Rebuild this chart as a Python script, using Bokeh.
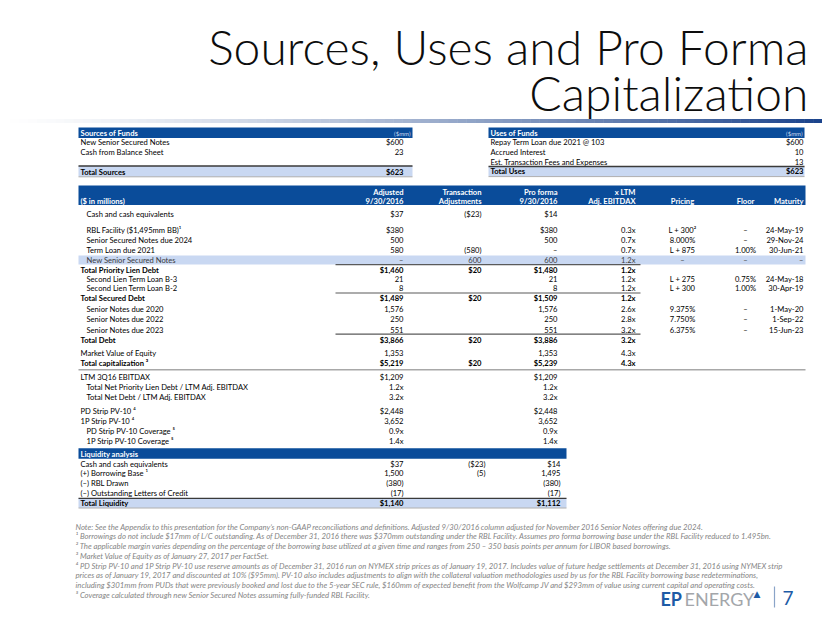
from bokeh.plotting import figure
from bokeh.models import ColumnDataSource, Range1d
from bokeh.core.properties import value
from bokeh.embed import file_html
from bokeh.resources import INLINE

# ---------------- DATA ----------------
title_lines = ["Sources, Uses and Pro Forma", "Capitalization"]

sources_header = "Sources of Funds"
sources_labels = ["New Senior Secured Notes", "Cash from Balance Sheet", "Total Sources"]
sources_values = ["$600", "23", "$623"]

uses_header = "Uses of Funds"
uses_labels = ["Repay Term Loan due 2021 @ 103", "Accrued Interest",
               "Est. Transaction Fees and Expenses", "Total Uses"]
uses_values = ["$600", "10", "13", "$623"]

cap_head_top = ["", "Adjusted", "Transaction", "Pro forma", "x LTM", "", "", ""]
cap_head_bottom = ["($ in millions)", "9/30/2016", "Adjustments", "9/30/2016",
                   "Adj. EBITDAX", "Pricing", "Floor", "Maturity"]

cap_labels = ["Cash and cash equivalents", "RBL Facility ($1,495mm BB)\u00b9",
              "Senior Secured Notes due 2024", "Term Loan due 2021", "New Senior Secured Notes",
              "Total Priority Lien Debt", "Second Lien Term Loan B-3", "Second Lien Term Loan B-2",
              "Total Secured Debt", "Senior Notes due 2020", "Senior Notes due 2022",
              "Senior Notes due 2023", "Total Debt", "Market Value of Equity",
              "Total capitalization \u00b3", "LTM 3Q16 EBITDAX",
              "Total Net Priority Lien Debt / LTM Adj. EBITDAX", "Total Net Debt / LTM Adj. EBITDAX",
              "PD Strip PV-10 \u2074", "1P Strip PV-10 \u2074", "PD Strip PV-10 Coverage \u2075",
              "1P Strip PV-10 Coverage \u2075"]
cap_adjusted = ["$37", "$380", "500", "580", "\u2013", "$1,460", "21", "8", "$1,489", "1,576",
                "250", "551", "$3,866", "1,353", "$5,219", "$1,209", "1.2x", "3.2x", "$2,448",
                "3,652", "0.9x", "1.4x"]
cap_transaction = ["($23)", "", "", "(580)", "600", "$20", "", "", "$20", "", "", "", "$20", "",
                   "$20", "", "", "", "", "", "", ""]
cap_pro_forma = ["$14", "$380", "500", "\u2013", "600", "$1,480", "21", "8", "$1,509", "1,576",
                 "250", "551", "$3,886", "1,353", "$5,239", "$1,209", "1.2x", "3.2x", "$2,448",
                 "3,652", "0.9x", "1.4x"]
cap_x_ltm = ["", "0.3x", "0.7x", "0.7x", "1.2x", "1.2x", "1.2x", "1.2x", "1.2x", "2.6x", "2.8x",
             "3.2x", "3.2x", "4.3x", "4.3x", "", "", "", "", "", "", ""]
cap_pricing = ["", "L + 300\u00b2", "8.000%", "L + 875", "\u2013", "", "L + 275", "L + 300", "",
               "9.375%", "7.750%", "6.375%", "", "", "", "", "", "", "", "", "", ""]
cap_floor = ["", "\u2013", "\u2013", "1.00%", "\u2013", "", "0.75%", "1.00%", "", "\u2013",
             "\u2013", "\u2013", "", "", "", "", "", "", "", "", "", ""]
cap_maturity = ["", "24-May-19", "29-Nov-24", "30-Jun-21", "\u2013", "", "24-May-18", "30-Apr-19",
                "", "1-May-20", "1-Sep-22", "15-Jun-23", "", "", "", "", "", "", "", "", "", ""]

liq_header = "Liquidity analysis"
liq_labels = ["Cash and cash equivalents", "(+) Borrowing Base \u00b9", "(\u2013) RBL Drawn",
              "(\u2013) Outstanding Letters of Credit", "Total Liquidity"]
liq_adjusted = ["$37", "1,500", "(380)", "(17)", "$1,140"]
liq_transaction = ["($23)", "(5)", "", "", ""]
liq_pro_forma = ["$14", "1,495", "(380)", "(17)", "$1,112"]

footnotes = [
    "Note: See the Appendix to this presentation for the Company\u2019s non-GAAP reconciliations and definitions. Adjusted 9/30/2016 column adjusted for November 2016 Senior Notes offering due 2024.",
    "\u00b9 Borrowings do not include $17mm of L/C outstanding. As of December 31, 2016 there was $370mm outstanding under the RBL Facility. Assumes pro forma borrowing base under the RBL Facility reduced to 1.495bn.",
    "\u00b2 The applicable margin varies depending on the percentage of the borrowing base utilized at a given time and ranges from 250 \u2013 350 basis points per annum for LIBOR based borrowings.",
    "\u00b3 Market Value of Equity as of January 27, 2017 per FactSet.",
    "\u2074 PD Strip PV-10 and 1P Strip PV-10 use reserve amounts as of December 31, 2016 run on NYMEX strip prices as of January 19, 2017. Includes value of future hedge settlements at December 31, 2016 using NYMEX strip",
    "prices as of January 19, 2017 and discounted at 10% ($95mm). PV-10 also includes adjustments to align with the collateral valuation methodologies used by us for the RBL Facility borrowing base redeterminations,",
    "including $301mm from PUDs that were previously booked and lost due to the 5-year SEC rule, $160mm of expected benefit from the Wolfcamp JV and $293mm of value using current capital and operating costs.",
    "\u2075 Coverage calculated through new Senior Secured Notes assuming fully-funded RBL Facility.",
]

logo_parts = ["EP", "ENERGY"]
page_number = "7"

# ---------------- LAYOUT / STYLE ----------------
FONT = value("Lato")
BLUE = "#0a4c9a"
LIGHT = "#c9d8f2"
BODY = "#000000"
FS = "7.6px"

cap_row_y = [213.3, 229.3, 239.7, 249.4, 259.5, 269.3, 278.4, 287.6, 297.5, 308.0, 318.7,
             329.0, 339.4, 352.6, 362.3, 376.2, 386.2, 396.6, 410.0, 420.3, 430.0, 440.0]
cap_indent = [1, 1, 1, 1, 1, 0, 1, 1, 0, 1, 1, 1, 0, 0, 0, 0, 1, 1, 0, 0, 1, 1]
cap_bold = [0, 0, 0, 0, 0, 1, 0, 0, 1, 0, 0, 0, 1, 0, 1, 0, 0, 0, 0, 0, 0, 0]
cap_col_x = [403, 481, 557, 635, 682, 745, 803]
cap_col_align = ["right", "right", "right", "right", "center", "center", "right"]
liq_row_y = [463.3, 472.7, 482.6, 492.4, 502.3]
liq_col_x = [403, 485, 560]

W, H = 822, 615
p = figure(width=W, height=H, x_range=Range1d(0, W), y_range=Range1d(H, 0),
           output_backend="svg", toolbar_location=None, x_axis_location=None,
           y_axis_location=None, title_location=None, min_border=0, outline_line_color=None)
p.grid.visible = False
p.background_fill_color = "white"

# gradient rule under the title
n = 90
gl, gr, gc = [], [], []
for i in range(n):
    t = i / (n - 1)
    f = t ** 1.3
    r = int(255 + (28 - 255) * f)
    g = int(255 + (68 - 255) * f)
    b = int(255 + (140 - 255) * f)
    gl.append(i * W / n)
    gr.append((i + 1) * W / n + 0.5)
    gc.append("#%02x%02x%02x" % (r, g, b))
p.quad(left=gl, right=gr, top=[118.5] * n, bottom=[122.5] * n, fill_color=gc, line_color=None)

# background bars
bars = dict(l=[], r=[], t=[], b=[], c=[])
def bar(l, r, t, b, c):
    bars["l"].append(l); bars["r"].append(r); bars["t"].append(t); bars["b"].append(b); bars["c"].append(c)

bar(78, 412, 127, 137.5, BLUE)      # sources header
bar(488, 804, 127, 137.5, BLUE)     # uses header
bar(78, 412, 165.5, 176, LIGHT)     # total sources
bar(488, 804, 166, 175.8, LIGHT)    # total uses
bar(78, 805, 185, 204.5, BLUE)      # cap header
bar(78, 805, cap_row_y[4] - 4.6, cap_row_y[4] + 4.6, LIGHT)
bar(78, 566, 447.7, 458.3, BLUE)    # liquidity header
bar(78, 566, 497.8, 507.2, LIGHT)   # total liquidity
p.quad(left="l", right="r", top="t", bottom="b", fill_color="c", line_color=None,
       source=ColumnDataSource(bars))

# rules
def rule(x0, x1, y, color, w):
    p.line([x0, x1], [y, y], line_color=color, line_width=w)

rule(78, 412, 165.5, "#3a3a3a", 1.3)
rule(78, 412, 176.3, "#9a9a9a", 0.8)
rule(488, 804, 166, "#3a3a3a", 1.3)
rule(488, 804, 176.1, "#9a9a9a", 0.8)
for yy in [264.1, 292.5, 333.6]:
    rule(335, 640, yy, "#5a5a5a", 1.1)
rule(78, 805, 369.3, "#a8a8a8", 1.4)
rule(78, 566, 497.8, "#3a3a3a", 1.3)
rule(78, 566, 507.5, "#9a9a9a", 0.8)

# ---------------- TEXT ----------------
T = dict(x=[], y=[], text=[], align=[], style=[], color=[], size=[])
def txt(x, y, s, align="left", style="normal", color=BODY, size=FS):
    if s == "":
        return
    T["x"].append(x); T["y"].append(y); T["text"].append(s); T["align"].append(align)
    T["style"].append(style); T["color"].append(color); T["size"].append(size)

# sources / uses
txt(80, 132.5, sources_header, style="bold", color="white")
txt(410, 132.5, "($mm)", align="right", color="#cdd7ee", size="6px")
src_y = [141.2, 151.3, 171.0]
for lab, v, yy, k in zip(sources_labels, sources_values, src_y, range(3)):
    st = "bold" if k == 2 else "normal"
    txt(80, yy, lab, style=st)
    txt(403, yy, v, align="right", style=st)
txt(490, 132.5, uses_header, style="bold", color="white")
txt(802, 132.5, "($mm)", align="right", color="#cdd7ee", size="6px")
use_y = [141.2, 151.3, 161.3, 170.9]
for lab, v, yy, k in zip(uses_labels, uses_values, use_y, range(4)):
    st = "bold" if k == 3 else "normal"
    txt(490, yy, lab, style=st)
    txt(803, yy, v, align="right", style=st)

# capitalization header
for j in range(8):
    if j == 0:
        txt(80, 200.3, cap_head_bottom[0], style="bold", color="white")
        continue
    x = cap_col_x[j - 1]
    a = cap_col_align[j - 1]
    txt(x, 191.0, cap_head_top[j], align=a, style="bold", color="white")
    txt(x, 200.3, cap_head_bottom[j], align=a, style="bold", color="white")

cols = [cap_adjusted, cap_transaction, cap_pro_forma, cap_x_ltm, cap_pricing, cap_floor, cap_maturity]
for i, lab in enumerate(cap_labels):
    yy = cap_row_y[i]
    st = "bold" if cap_bold[i] else "normal"
    col = "#3c3c3c" if i == 4 else BODY
    txt(86 if cap_indent[i] else 80, yy, lab, style=st, color=col)
    for j, c in enumerate(cols):
        txt(cap_col_x[j], yy, c[i], align=cap_col_align[j], style=st, color=col)

# liquidity
txt(80, 453.0, liq_header, style="bold", color="white")
for i, lab in enumerate(liq_labels):
    yy = liq_row_y[i]
    st = "bold" if i == 4 else "normal"
    txt(80, yy, lab, style=st)
    for j, c in enumerate([liq_adjusted, liq_transaction, liq_pro_forma]):
        txt(liq_col_x[j], yy, c[i], align="right", style=st)

p.text(x="x", y="y", text="text", text_align="align", text_font_style="style",
       text_color="color", text_font_size="size", text_baseline="middle", text_font=FONT,
       source=ColumnDataSource(T))

# footnotes
fn_y = [526.7, 535.8, 545.2, 555.0, 565.0, 574.8, 584.4, 594.0]
p.text(x=[75] * len(footnotes), y=fn_y, text=footnotes, text_font=FONT,
       text_font_size="7.75px", text_font_style="italic", text_color="#858585",
       text_baseline="middle", text_align="left")

# title
p.text(x=[808, 808], y=[46, 91.5], text=title_lines, text_font=value("Lato Light"),
       text_font_size="48px", text_color="#0d0d0d", text_align="right", text_baseline="middle")

# logo + page number
p.text(x=[660], y=[598], text=[logo_parts[0]], text_font=FONT, text_font_size="18px",
       text_font_style="bold", text_color="#1d5ba6", text_baseline="middle")
p.text(x=[684], y=[598], text=[logo_parts[1]], text_font=FONT, text_font_size="18px",
       text_color="#a3a6aa", text_baseline="middle")
p.text(x=[753], y=[593], text=["\u25b2"], text_font=value("DejaVu Sans"), text_font_size="9px",
       text_color="#1d5ba6", text_baseline="middle")
p.line([774, 774], [586, 607], line_color="#8aa4c8", line_width=1.2)
p.text(x=[782], y=[597.5], text=[page_number], text_font=FONT, text_font_size="19px",
       text_color="#1d5ba6", text_baseline="middle")

open("out.html", "w").write(file_html(p, INLINE))
